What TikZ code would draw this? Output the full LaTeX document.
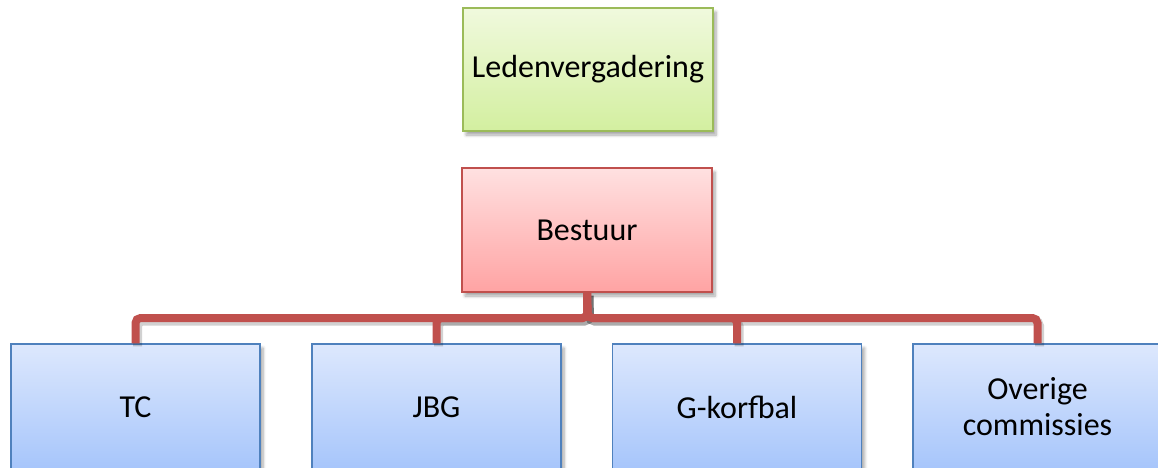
\documentclass[tikz,border=0pt]{standalone}
\usepackage{fontspec}
\setmainfont{Carlito}
\usetikzlibrary{shadows.blur}
\definecolor{gtop}{HTML}{F0F9DD}
\definecolor{gbot}{HTML}{D3EFA0}
\definecolor{gline}{HTML}{9BBB59}
\definecolor{rtop}{HTML}{FFE1E1}
\definecolor{rbot}{HTML}{FFA3A3}
\definecolor{rline}{HTML}{C0504D}
\definecolor{btop}{HTML}{DDE8FD}
\definecolor{bbot}{HTML}{A6C5FB}
\definecolor{bline}{HTML}{4F81BD}
\tikzset{
  box/.style={rectangle, line width=1.2pt, align=center, inner sep=0pt,
    font=\fontsize{32}{36}\selectfont,
    blur shadow={shadow xshift=3pt, shadow yshift=-4pt, shadow blur steps=6, shadow opacity=35, shadow blur radius=3pt}},
  greenbox/.style={box, draw=gline, top color=gtop, bottom color=gbot, minimum width=250pt, minimum height=123pt},
  redbox/.style={box, draw=rline, top color=rtop, bottom color=rbot, minimum width=250pt, minimum height=124pt},
  bluebox/.style={box, draw=bline, top color=btop, bottom color=bbot, minimum width=249pt, minimum height=126pt},
  conn/.style={draw=rline, line width=8pt, rounded corners=5pt},
  connshadow/.style={draw=black, opacity=0.18, line width=9pt, rounded corners=5pt},
}
\begin{document}
\begin{tikzpicture}[x=1pt,y=-1pt]
\useasboundingbox (0,0) rectangle (1158,468);
\clip (0,0) rectangle (1158,468);
\node[greenbox] (lv) at (588,69.5) {Ledenvergadering};
\node[redbox] (b) at (587,230) {Bestuur};
\node[bluebox] (c1) at (135.5,407) {TC};
\node[bluebox] (c2) at (436.5,407) {JBG};
\node[bluebox] (c3) at (737,407) {G-korfbal};
\node[bluebox] (c4) at (1037.5,407) {Overige\\commissies};
\coordinate (hub) at (587.5,318);
\begin{scope}[transform canvas={shift={(2pt,-3pt)}}]
\foreach \c in {c1,c2,c3,c4}
  \path[connshadow] (b.south) -- (hub) -| (\c.north);
\end{scope}
\foreach \c in {c1,c2,c3,c4}
  \path[conn] (b.south) -- (hub) -| (\c.north);
\end{tikzpicture}
\end{document}
